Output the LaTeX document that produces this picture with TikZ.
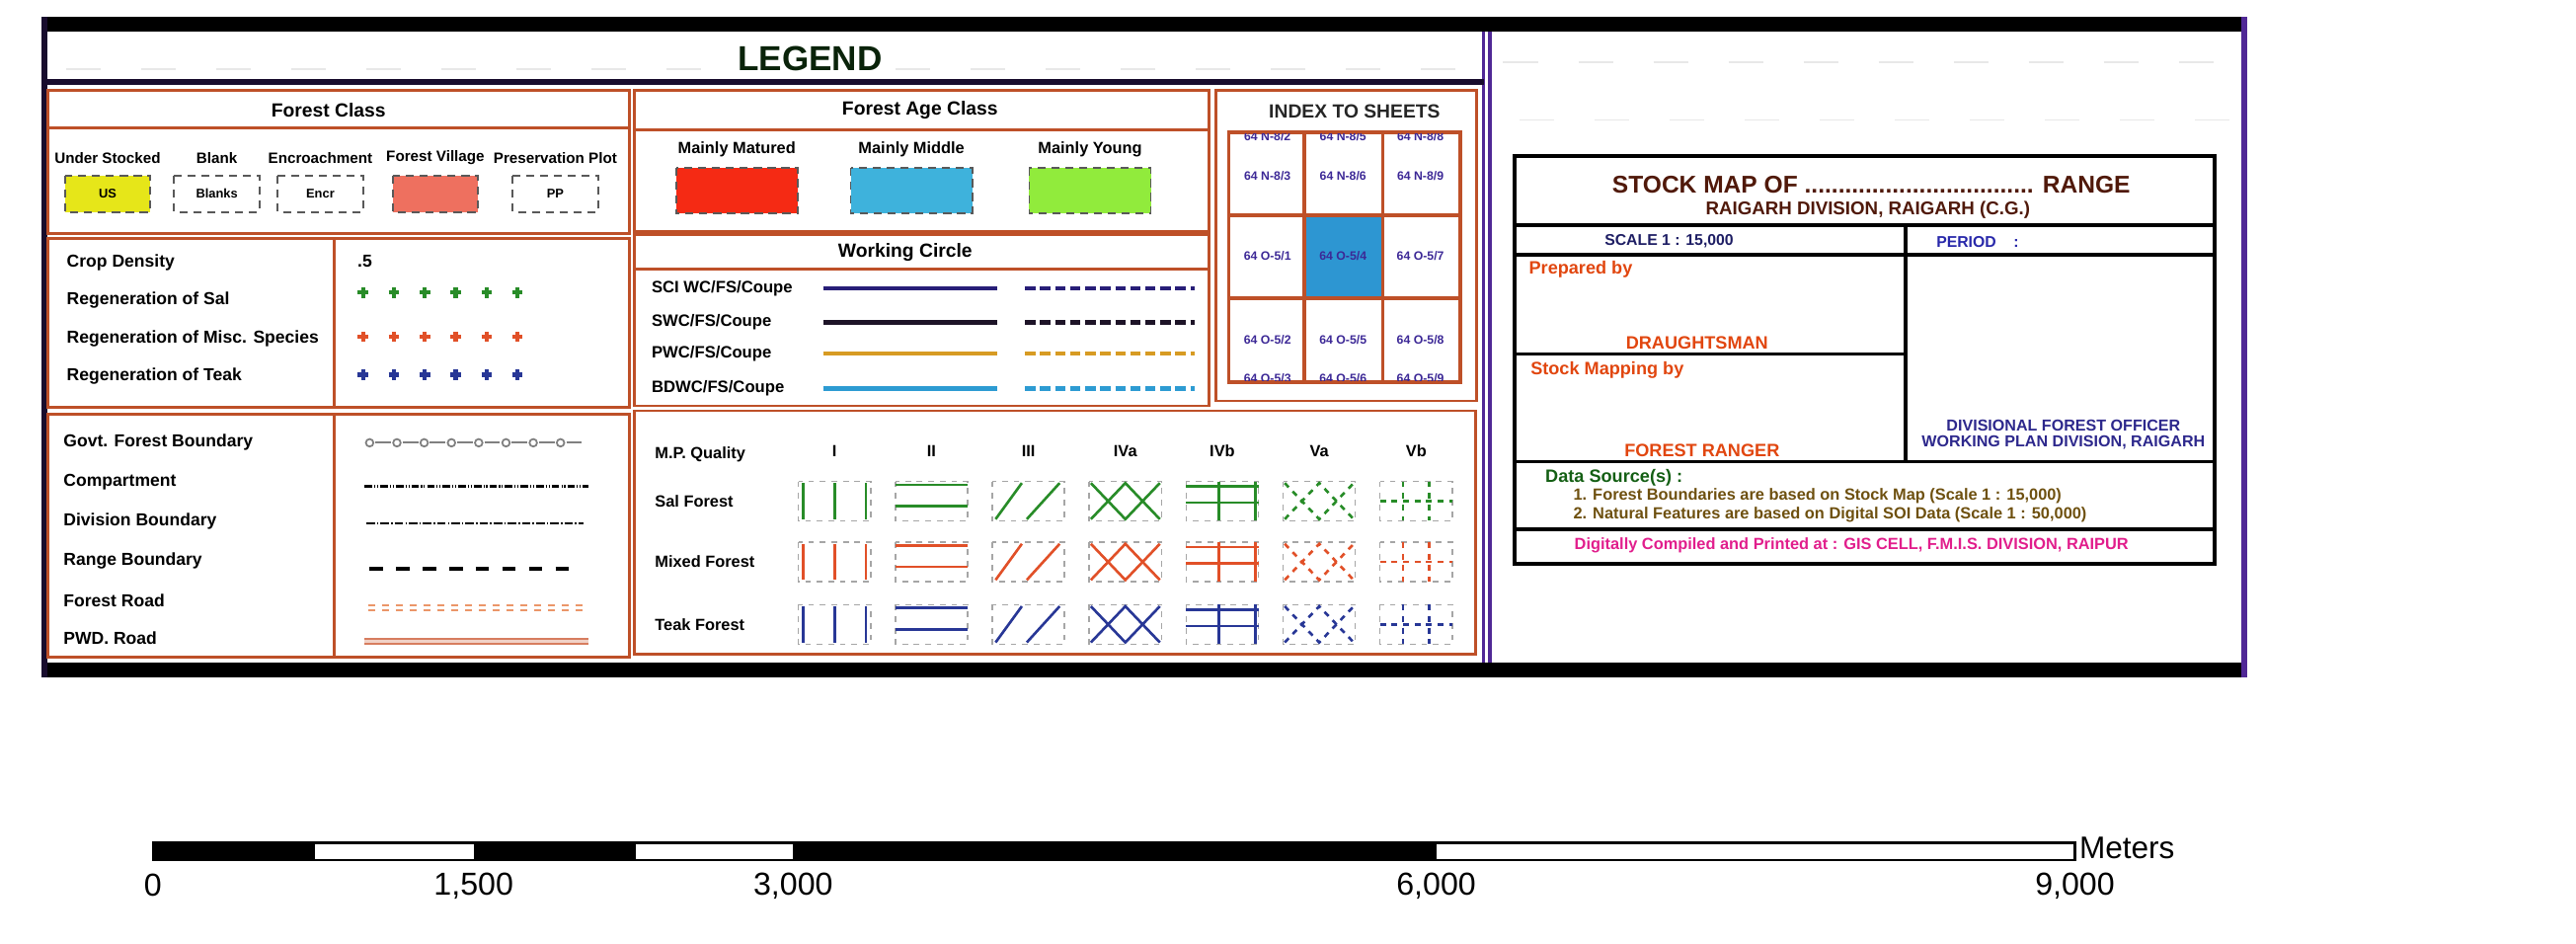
\documentclass[tikz,border=0pt]{standalone}
\usepackage{fontspec}
\setmainfont{Liberation Sans}
\usetikzlibrary{calc}
\usepackage{xcolor}

\definecolor{framec}{RGB}{80,40,150}
\definecolor{panelc}{RGB}{190,80,40}
\definecolor{legendc}{RGB}{10,35,10}
\definecolor{usc}{RGB}{230,230,25}
\definecolor{fvc}{RGB}{238,112,95}
\definecolor{maturedc}{RGB}{245,42,20}
\definecolor{middlec}{RGB}{62,178,220}
\definecolor{youngc}{RGB}{145,235,60}
\definecolor{sheetc}{RGB}{60,40,150}
\definecolor{cellc}{RGB}{45,150,210}
\definecolor{salc}{RGB}{40,140,40}
\definecolor{mixc}{RGB}{225,80,40}
\definecolor{teakc}{RGB}{40,55,150}
\definecolor{wca}{RGB}{40,30,120}
\definecolor{wcb}{RGB}{30,20,40}
\definecolor{wcc}{RGB}{215,155,35}
\definecolor{wcd}{RGB}{45,155,210}
\definecolor{roadc}{RGB}{235,150,105}
\definecolor{pwdc}{RGB}{215,125,95}
\definecolor{maroonc}{RGB}{80,25,10}
\definecolor{navyc}{RGB}{30,30,100}
\definecolor{periodc}{RGB}{40,40,170}
\definecolor{redorc}{RGB}{225,70,15}
\definecolor{dfoc}{RGB}{45,40,140}
\definecolor{greenc}{RGB}{20,95,20}
\definecolor{olivec}{RGB}{110,80,15}
\definecolor{magc}{RGB}{225,30,140}

\newcommand\fsz[1]{\fontsize{#1}{#1}\selectfont}

\begin{document}
\begin{tikzpicture}[x=0.1mm,y=-0.1mm,
	panel/.style={draw=panelc,line width=0.5pt},
	ttl/.style={inner sep=0pt,font=\bfseries\fsz{3.3}},
	lbl/.style={anchor=west,inner sep=0pt,font=\bfseries\fsz{3}},
	itemtxt/.style={inner sep=0pt,font=\bfseries\fsz{2.6}},
	swatch/.style={draw=black!65,dash pattern=on 1.4pt off 1pt,line width=0.3pt},
	sheet/.style={inner sep=0pt,text=sheetc,font=\bfseries\fsz{2.1}},
	wline/.style={line width=0.75pt},
	wdash/.style={line width=0.75pt,dash pattern=on 1.8pt off 0.8pt},
	plusmark/.style={line width=0.75pt},
	mpbox/.style={draw=black!35,line width=0.25pt,dash pattern=on 1pt off 1pt},
	mpl/.style={line width=0.45pt},
	noise/.style={gray!18,line width=0.3pt,dash pattern=on 6pt off 7pt}]
			\useasboundingbox (0,0) rectangle (1568,574);
			
			% frame
			\fill[black] (25,10) rectangle (1368,19);
			\fill[black] (25,403) rectangle (1368,412);
			\fill[black!70!framec] (25,10) rectangle (29,412);
			\fill[framec] (1364,10) rectangle (1368,412);
			\draw[framec,line width=0.6pt] (903,19) -- (903,403) (907,19) -- (907,403);
			\draw[black!70!framec,line width=1pt] (29,50) -- (903,50);
			\draw[noise] (40,42) -- (440,42) (545,42) -- (900,42);
			\draw[noise] (915,38) -- (1360,38) (925,73) -- (1360,73);
			\node[font=\bfseries\fsz{6},text=legendc,inner sep=0pt] (legend) at (493,36) {LEGEND};
			
			% forest class
			\draw[panel] (29,55) rectangle (383,142);
			\draw[panel] (29,78) -- (383,78);
			\node[ttl] (fclass) at (200,67) {Forest Class};
			\foreach \cx/\lab/\txt/\col/\nm in {65.5/Under Stocked/US/usc/us,132/Blank/Blanks/white/bl,195/Encroachment/Encr/white/en,265/Forest Village//fvc/fv,338/Preservation Plot/PP/white/pp}{
				\node[itemtxt] (\nm-l) at (\cx,96) {\lab};
				\draw[swatch,fill=\col] (\cx-26,107) rectangle (\cx+26,129);
				\node[inner sep=0pt,font=\bfseries\fsz{2.2}] (\nm-s) at (\cx,118) {\txt};
			}
			
			% forest age class
			\draw[panel] (386,55) rectangle (736,141);
			\draw[panel] (386,79) -- (736,79);
			\node[ttl] (fage) at (560,67) {Forest Age Class};
			\foreach \cx/\lab/\col/\nm in {448.5/Mainly Matured/maturedc/mm,554.8/Mainly Middle/middlec/mi,663.5/Mainly Young/youngc/my}{
				\node[inner sep=0pt,font=\bfseries\fsz{2.8}] (\nm-l) at (\cx,91) {\lab};
				\draw[swatch,fill=\col] (\cx-37,102) rectangle (\cx+37,130);
			}
			
			% index to sheets
			\draw[panel] (740,55) rectangle (899,244);
			\node[ttl,text=black!85] (index) at (824.5,68) {INDEX TO SHEETS};
			\fill[cellc] (794,131) rectangle (841.6,181.5);
			\draw[panelc,line width=0.6pt] (748,80.5) rectangle (889,232.5);
			\draw[panelc,line width=0.6pt] (794,80.5) -- (794,232.5) (841.6,80.5) -- (841.6,232.5) (748,131) -- (889,131) (748,181.5) -- (889,181.5);
			\begin{scope}
				\clip (748,81.5) rectangle (889,231.5);
				\foreach \cx [count=\n from 0] in {771.5,817.5,864.6}{
					\pgfmathtruncatemacro\ka{1+3*\n}
					\pgfmathtruncatemacro\kb{2+3*\n}
					\pgfmathtruncatemacro\kc{3+3*\n}
					\node[sheet] (n\kb) at (\cx,83) {64 N-8/\kb};
					\node[sheet] (n\kc) at (\cx,107) {64 N-8/\kc};
					\node[sheet] (o\ka) at (\cx,156) {64 O-5/\ka};
					\node[sheet] (o\kb) at (\cx,207) {64 O-5/\kb};
					\node[sheet] (o\kc) at (\cx,230.5) {64 O-5/\kc};
				}
			\end{scope}
			
			% crop density and regeneration
			\draw[panel] (29,145) rectangle (383,248);
			\draw[panel] (203.5,145) -- (203.5,248);
			\node[lbl] (crop) at (40,160) {Crop Density};
			\node[lbl] (regsal) at (40,183) {Regeneration of Sal};
			\node[lbl] (regmisc) at (40,206) {Regeneration of Misc. Species};
			\node[lbl] (regteak) at (40,229) {Regeneration of Teak};
			\node[lbl] (density) at (217,159) {.5};
			\foreach \cy/\col in {178/salc,205/mixc,228/teakc}
				\foreach \i in {0,...,5}
					\draw[plusmark,\col] ({221+18.8*\i-3.2},\cy) -- ++(6.4,0) ({221+18.8*\i},\cy-3.2) -- ++(0,6.4);
			
			% working circle
			\draw[panel] (386,143) rectangle (736,247);
			\draw[panel] (386,164) -- (736,164);
			\node[ttl] (wcircle) at (551,153.5) {Working Circle};
			\foreach \cy/\lab/\col/\nm in {175.5/{SCI WC/FS/Coupe}/wca/sci,196.3/{SWC/FS/Coupe}/wcb/swc,215/{PWC/FS/Coupe}/wcc/pwc,236.5/{BDWC/FS/Coupe}/wcd/bdwc}{
				\node[lbl,font=\bfseries\fsz{2.85}] (\nm) at (396,\cy) {\lab};
				\draw[wline,\col] (501,\cy) -- (607,\cy);
				\draw[wdash,\col] (624,\cy) -- (727,\cy);
			}
			
			% boundaries and roads
			\draw[panel] (29,252) rectangle (383,400);
			\draw[panel] (203.5,252) -- (203.5,400);
			\node[lbl] (govt) at (38,269.5) {Govt. Forest Boundary};
			\node[lbl] (comp) at (38,293.5) {Compartment};
			\node[lbl] (divb) at (38,317.5) {Division Boundary};
			\node[lbl] (rangeb) at (38,341.5) {Range Boundary};
			\node[lbl] (froad) at (38,365.5) {Forest Road};
			\node[lbl] (pwd) at (38,388.5) {PWD. Road};
			\foreach \i in {0,...,7}{
				\draw[gray,line width=0.3pt] ({225+16.6*\i},269.5) circle[radius=2.3];
				\draw[gray,line width=0.35pt] ({228.5+16.6*\i},269.5) -- ++(9.5,0);
			}
			\draw[black,line width=0.4pt,dash pattern=on 1.3pt off 0.35pt on 0.2pt off 0.3pt on 0.2pt off 0.35pt] (222,296) -- (358,296);
			\draw[black,line width=0.4pt,dash pattern=on 1.5pt off 0.35pt on 0.25pt off 0.35pt] (223,318.5) -- (355,318.5);
			\draw[black,line width=0.75pt,dash pattern=on 2.3pt off 2.3pt] (225,346) -- (347,346);
			\draw[roadc,line width=0.35pt,dash pattern=on 1.2pt off 1.2pt] (224,368.5) -- (358,368.5) (224,371.5) -- (358,371.5);
			\fill[pwdc!35] (222,389.3) rectangle (358,391.7);
			\draw[pwdc,line width=0.4pt] (222,389) -- (358,389) (222,392) -- (358,392);
			
			% m.p. quality
			\draw[panel] (386,250) rectangle (898,398);
			\node[lbl,font=\bfseries\fsz{2.8}] (mpq) at (398,276.5) {M.P. Quality};
			\foreach \cx/\lab/\nm in {508/I/qi,567/II/qii,626/III/qiii,685/IVa/qiva,744/IVb/qivb,803/Va/qva,862/Vb/qvb}
				\node[inner sep=0pt,font=\bfseries\fsz{2.8}] (\nm) at (\cx,274.5) {\lab};
			\foreach \cy/\lab/\col/\nm in {305/Sal Forest/salc/sal,342/Mixed Forest/mixc/mixed,380/Teak Forest/teakc/teak}{
				\node[lbl,font=\bfseries\fsz{2.8}] (\nm) at (398,\cy) {\lab};
				\foreach \cx in {508,567,626,685,744,803,862}
					\draw[mpbox] (\cx-22,\cy-12) rectangle (\cx+22,\cy+12);
				\begin{scope}[shift={(508,\cy)}]
					\draw[mpl,\col] (-19,-11) -- (-19,11) (0,-11) -- (0,11) (19,-11) -- (19,11);
				\end{scope}
				\begin{scope}[shift={(567,\cy)}]
					\draw[mpl,\col] (-22,-10) -- (22,-10) (-22,3) -- (22,3);
				\end{scope}
				\begin{scope}[shift={(626,\cy)}]
					\draw[mpl,\col] (-20,11) -- (-4,-11) (-1,11) -- (19,-11);
				\end{scope}
				\begin{scope}[shift={(685,\cy)}]
					\draw[mpl,\col] (-21,-11) -- (0,11) -- (21,-11) (-21,11) -- (0,-11) -- (21,11);
				\end{scope}
				\begin{scope}[shift={(744,\cy)}]
					\draw[mpl,\col] (-22,-9) -- (22,-9) (-22,1) -- (22,1) (-2,-12) -- (-2,12) (20,-12) -- (20,12);
				\end{scope}
				\begin{scope}[shift={(803,\cy)}]
					\draw[mpl,\col,dash pattern=on 1pt off 1pt] (-21,-11) -- (0,11) -- (21,-11) (-21,11) -- (0,-11) -- (21,11);
				\end{scope}
				\begin{scope}[shift={(862,\cy)}]
					\draw[mpl,\col,dash pattern=on 1pt off 1pt] (-22,0) -- (22,0) (-8,-12) -- (-8,12) (8,-12) -- (8,12);
				\end{scope}
			}
			
			% title block
			\draw[black,line width=0.7pt] (922,95) rectangle (1348,343);
			\draw[black,line width=0.6pt] (922,137) -- (1348,137) (922,155) -- (1348,155) (1160,137) -- (1160,281) (922,215.5) -- (1160,215.5) (922,281) -- (1348,281) (922,322) -- (1348,322);
			\node[inner sep=0pt,text=maroonc,font=\bfseries\fsz{4.2}] (stock) at (1139,112.5) {STOCK MAP OF .................................. RANGE};
			\node[inner sep=0pt,text=maroonc,font=\bfseries\fsz{3.2}] (division) at (1137,128) {RAIGARH DIVISION, RAIGARH (C.G.)};
			\node[inner sep=0pt,text=navyc,font=\bfseries\fsz{2.7}] (scale) at (1016,147) {SCALE 1 : 15,000};
			\node[anchor=west,inner sep=0pt,text=periodc,font=\bfseries\fsz{2.7}] (period) at (1178,147) {PERIOD\hspace{3pt}:};
			\node[lbl,text=redorc,font=\bfseries\fsz{3.1}] (prepared) at (930,164) {Prepared by};
			\node[inner sep=0pt,text=redorc,font=\bfseries\fsz{3.1}] (draught) at (1033,208.5) {DRAUGHTSMAN};
			\node[lbl,text=redorc,font=\bfseries\fsz{3.1}] (mapping) at (931,225) {Stock Mapping by};
			\node[inner sep=0pt,text=redorc,font=\bfseries\fsz{3.1}] (ranger) at (1036,274) {FOREST RANGER};
			\node[inner sep=0pt,text=dfoc,font=\bfseries\fsz{2.75}] (dfo) at (1256,259) {DIVISIONAL FOREST OFFICER};
			\node[inner sep=0pt,text=dfoc,font=\bfseries\fsz{2.75}] (wpd) at (1256,269.5) {WORKING PLAN DIVISION, RAIGARH};
			\node[lbl,text=greenc,font=\bfseries\fsz{3.1}] (source) at (940,290.5) {Data Source(s) :};
			\node[lbl,text=olivec,font=\bfseries\fsz{2.8}] (srca) at (957,302) {1. Forest Boundaries are based on Stock Map (Scale 1 : 15,000)};
			\node[lbl,text=olivec,font=\bfseries\fsz{2.8}] (srcb) at (957,313) {2. Natural Features are based on Digital SOI Data (Scale 1 : 50,000)};
			\node[inner sep=0pt,text=magc,font=\bfseries\fsz{2.8}] (gis) at (1127,332) {Digitally Compiled and Printed at : GIS CELL, F.M.I.S. DIVISION, RAIPUR};
			
			% scale bar
			\fill[black] (93,513) rectangle (192,523.5);
			\fill[black] (288.3,513) rectangle (387.2,523.5);
			\fill[black] (482.8,513) rectangle (874.2,523.5);
			\draw[black,line width=0.4pt] (93,513) rectangle (1263,523.5);
			\foreach \cx/\lab/\nm in {93/0/sa,288.3/{1,500}/sb,482.8/{3,000}/sc,874.2/{6,000}/sd,1263/{9,000}/se}
				\node[inner sep=0pt,font=\fsz{5.5}] (\nm) at (\cx,539) {\lab};
			\node[anchor=west,inner sep=0pt,font=\fsz{5.4}] (meters) at (1265,516) {Meters};
\end{tikzpicture}
\end{document}
